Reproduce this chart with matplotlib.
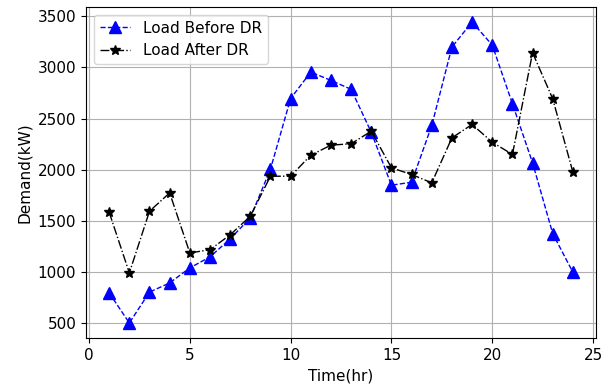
import matplotlib
matplotlib.use("Agg")
import matplotlib.pyplot as plt

plt.rcParams['font.size'] = 11

hours = list(range(1, 25))
load_before = [792, 498, 800, 890, 1037, 1145, 1321, 1527, 2005, 2696, 2955, 2873, 2786, 2365,
               1847, 1876, 2432, 3200, 3445, 3219, 2645, 2066, 1373, 994]
load_after = [1582, 988, 1592, 1772, 1184, 1215, 1361, 1543, 1935, 1935, 2141, 2239, 2253, 2376,
              2017, 1952, 1870, 2311, 2442, 2268, 2148, 3144, 2693, 1974]

fig = plt.figure(figsize=(6.12, 3.87), dpi=100)
ax = fig.add_axes([0.1405, 0.1266, 0.8335, 0.8554])
ax.plot(hours, load_before, 'b--^', markersize=8, linewidth=1, label='Load Before DR')
ax.plot(hours, load_after, 'k-.*', markersize=7, linewidth=1, label='Load After DR')
ax.set_xlabel('Time(hr)')
ax.set_ylabel('Demand(kW)')
ax.grid(True)
ax.legend(loc='upper left')
fig.savefig('out.png', dpi=100)
